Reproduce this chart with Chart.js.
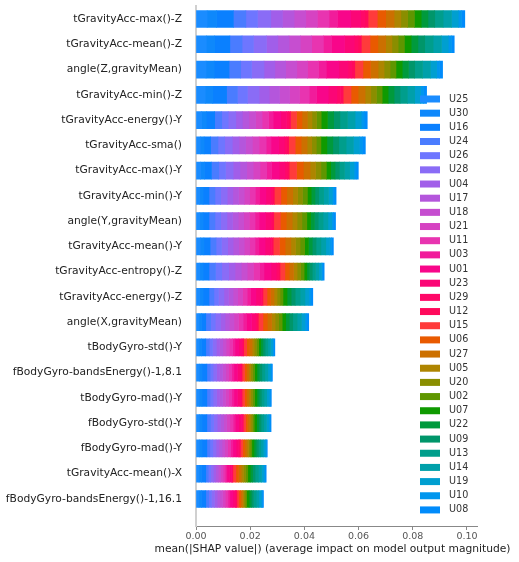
<!DOCTYPE html>
<html>
<head>
<meta charset="utf-8">
<script src="https://cdn.jsdelivr.net/npm/chart.js@4.4.1/dist/chart.umd.min.js"></script>
<style>
  html, body { margin: 0; padding: 0; background: #fff; }
  #wrap { width: 519px; height: 562px; }
</style>
</head>
<body>
<div id="wrap"><canvas id="shapChart" width="519" height="562"></canvas></div>
<script>
// features, top to bottom
const features = [
  'tGravityAcc-max()-Z', 'tGravityAcc-mean()-Z', 'angle(Z,gravityMean)', 'tGravityAcc-min()-Z',
  'tGravityAcc-energy()-Y', 'tGravityAcc-sma()', 'tGravityAcc-max()-Y', 'tGravityAcc-min()-Y',
  'angle(Y,gravityMean)', 'tGravityAcc-mean()-Y', 'tGravityAcc-entropy()-Z', 'tGravityAcc-energy()-Z',
  'angle(X,gravityMean)', 'tBodyGyro-std()-Y', 'fBodyGyro-bandsEnergy()-1,8.1', 'tBodyGyro-mad()-Y',
  'fBodyGyro-std()-Y', 'fBodyGyro-mad()-Y', 'tGravityAcc-mean()-X', 'fBodyGyro-bandsEnergy()-1,16.1'
];

const xTicks = [0, 0.02, 0.04, 0.06, 0.08, 0.10];
const xTitle = 'mean(|SHAP value|) (average impact on model output magnitude)';

// mean |SHAP| per class, in units of 1e-3, one value per feature above
const U25 = [4.1, 3.8, 3.7, 3.4, 2.1, 1.6, 1.7, 1.4, 1.4, 1.6, 1.4, 1.4, 1.1, 1.1, 1.2, 1.2, 1.2, 1.2, 1.1, 1.1];
const U30 = [3.5, 3.1, 3.0, 2.8, 1.7, 1.4, 1.4, 1.2, 1.2, 1.3, 1.2, 1.2, 0.9, 0.9, 1.0, 1.0, 1.0, 1.0, 0.9, 0.9];
const U16 = [6.2, 5.6, 5.5, 5.1, 3.1, 2.4, 2.6, 2.2, 2.2, 2.3, 2.2, 2.2, 1.6, 1.6, 1.8, 1.8, 1.8, 1.8, 1.6, 1.6];
const U24 = [4.6, 4.5, 4.3, 4.0, 2.6, 2.7, 2.7, 2.2, 2.2, 2.2, 2.4, 1.8, 1.8, 1.3, 1.2, 1.2, 1.3, 1.1, 0.9, 1.1];
const U26 = [4.3, 4.2, 4.0, 3.7, 2.4, 2.5, 2.5, 2.1, 2.1, 2.0, 2.3, 1.7, 1.7, 1.2, 1.1, 1.1, 1.2, 1.1, 0.9, 1.0];
const U28 = [4.9, 4.8, 4.6, 4.3, 2.8, 2.8, 2.8, 2.4, 2.3, 2.3, 2.6, 2.0, 1.9, 1.4, 1.3, 1.3, 1.3, 1.2, 1.0, 1.1];
const U04 = [4.3, 4.2, 4.0, 3.7, 2.4, 2.5, 2.5, 2.1, 2.1, 2.0, 2.3, 1.7, 1.7, 1.2, 1.1, 1.1, 1.2, 1.1, 0.9, 1.0];
const U17 = [4.3, 4.1, 4.0, 3.8, 2.4, 2.4, 2.5, 2.1, 2.1, 2.1, 2.3, 1.7, 1.6, 1.2, 1.1, 1.1, 1.2, 1.1, 0.9, 1.0];
const U18 = [4.3, 4.2, 4.1, 3.7, 2.5, 2.5, 2.4, 2.1, 2.0, 2.0, 2.2, 1.7, 1.7, 1.2, 1.2, 1.1, 1.1, 1.0, 0.9, 1.0];
const U21 = [4.3, 4.2, 4.0, 3.7, 2.4, 2.5, 2.5, 2.0, 2.1, 2.0, 2.3, 1.8, 1.7, 1.2, 1.1, 1.2, 1.2, 1.1, 0.9, 1.0];
const U11 = [4.3, 4.3, 4.0, 3.6, 2.4, 2.6, 2.5, 2.1, 2.1, 2.0, 2.3, 1.7, 1.7, 1.2, 1.1, 1.1, 1.2, 1.1, 0.8, 1.0];
const U03 = [3.1, 3.0, 2.9, 2.7, 1.7, 1.8, 1.8, 1.5, 1.5, 1.4, 1.6, 1.2, 1.2, 0.9, 0.8, 0.8, 0.8, 0.8, 0.6, 0.7];
const U01 = [4.9, 4.8, 4.6, 4.3, 2.8, 2.8, 2.8, 2.4, 2.3, 2.3, 2.6, 2.0, 1.9, 1.4, 1.3, 1.3, 1.3, 1.2, 1.0, 1.1];
const U23 = [3.7, 3.6, 3.4, 3.2, 2.1, 2.1, 2.1, 1.8, 1.8, 1.7, 1.9, 1.5, 1.4, 1.1, 1.0, 1.0, 1.0, 0.9, 0.7, 0.9];
const U29 = [1.5, 1.4, 1.4, 1.3, 0.8, 0.9, 0.9, 0.7, 0.7, 0.7, 0.8, 0.6, 0.6, 0.4, 0.4, 0.4, 0.4, 0.4, 0.3, 0.3];
const U12 = [1.2, 1.2, 1.1, 1.0, 0.7, 0.7, 0.7, 0.6, 0.6, 0.6, 0.6, 0.5, 0.5, 0.3, 0.3, 0.3, 0.3, 0.3, 0.2, 0.3];
const U15 = [3.4, 3.2, 3.0, 2.9, 2.2, 2.4, 2.7, 2.4, 2.4, 2.3, 1.8, 1.5, 1.7, 1.1, 0.9, 0.9, 0.8, 0.8, 1.1, 0.7];
const U06 = [3.1, 2.9, 2.8, 2.6, 2.0, 2.2, 2.5, 2.2, 2.2, 2.1, 1.6, 1.3, 1.6, 1.0, 0.8, 0.8, 0.7, 0.8, 1.0, 0.7];
const U27 = [3.1, 2.9, 2.8, 2.6, 2.0, 2.2, 2.5, 2.2, 2.2, 2.1, 1.6, 1.3, 1.6, 1.0, 0.8, 0.8, 0.7, 0.8, 1.0, 0.7];
const U05 = [2.5, 2.3, 2.2, 2.1, 1.7, 1.7, 2.0, 1.8, 1.8, 1.7, 1.3, 1.1, 1.3, 0.8, 0.7, 0.7, 0.6, 0.6, 0.8, 0.5];
const U20 = [2.5, 2.3, 2.2, 2.1, 1.7, 1.7, 2.0, 1.8, 1.8, 1.7, 1.3, 1.1, 1.3, 0.8, 0.7, 0.7, 0.6, 0.6, 0.8, 0.5];
const U02 = [2.5, 2.3, 2.2, 2.1, 1.7, 1.7, 2.0, 1.8, 1.8, 1.7, 1.3, 1.1, 1.3, 0.8, 0.7, 0.7, 0.6, 0.6, 0.8, 0.5];
const U07 = [2.5, 2.5, 2.3, 2.2, 2.3, 2.2, 1.6, 1.4, 1.4, 1.4, 1.0, 1.5, 1.3, 0.8, 0.9, 0.9, 0.9, 0.8, 0.9, 0.9];
const U22 = [2.5, 2.5, 2.3, 2.2, 2.3, 2.2, 1.6, 1.4, 1.4, 1.4, 1.0, 1.5, 1.3, 0.8, 0.9, 0.8, 0.8, 0.8, 0.9, 0.8];
const U09 = [2.5, 2.5, 2.3, 2.2, 2.3, 2.2, 1.6, 1.4, 1.4, 1.4, 1.0, 1.5, 1.3, 0.8, 0.9, 0.8, 0.8, 0.8, 0.9, 0.8];
const U13 = [3.1, 3.1, 2.9, 2.7, 2.8, 2.7, 1.9, 1.8, 1.8, 1.8, 1.2, 1.8, 1.6, 1.0, 1.1, 1.0, 1.0, 0.9, 1.2, 1.0];
const U14 = [3.1, 3.1, 2.9, 2.7, 2.8, 2.7, 1.9, 1.8, 1.8, 1.8, 1.2, 1.8, 1.6, 1.0, 1.1, 1.0, 1.0, 0.9, 1.2, 1.0];
const U19 = [2.5, 2.5, 2.3, 2.2, 2.3, 2.2, 1.6, 1.4, 1.4, 1.4, 1.0, 1.5, 1.3, 0.8, 0.9, 0.9, 0.9, 0.8, 0.9, 0.9];
const U10 = [1.2, 1.2, 1.1, 1.1, 1.1, 1.1, 0.8, 0.7, 0.7, 0.7, 0.5, 0.7, 0.7, 0.4, 0.4, 0.4, 0.4, 0.4, 0.4, 0.4];
const U08 = [1.2, 1.0, 1.1, 1.1, 1.1, 1.1, 0.8, 0.7, 0.7, 0.7, 0.5, 0.7, 0.7, 0.4, 0.4, 0.4, 0.4, 0.3, 0.4, 0.4];

const classNames = ['U25', 'U30', 'U16', 'U24', 'U26', 'U28', 'U04', 'U17', 'U18', 'U21',
  'U11', 'U03', 'U01', 'U23', 'U29', 'U12', 'U15', 'U06', 'U27', 'U05',
  'U20', 'U02', 'U07', 'U22', 'U09', 'U13', 'U14', 'U19', 'U10', 'U08'];
const classValues = [U25, U30, U16, U24, U26, U28, U04, U17, U18, U21,
  U11, U03, U01, U23, U29, U12, U15, U06, U27, U05,
  U20, U02, U07, U22, U09, U13, U14, U19, U10, U08];

// blue -> pink -> red -> green -> blue
const classColors = [
  '#1a8cff', '#0e88fb', '#0a80ff', '#4a7cff', '#6e76ff', '#8a6cf6', '#a15ee9', '#b456dc', '#c64ed0', '#d643c2',
  '#e834b0', '#f11c9b', '#f8068a', '#fb0676', '#ff0868', '#ff0a5c', '#ff3b3b', '#e95a00', '#cc7000', '#ae8500',
  '#8a8e00', '#5f9600', '#0f9a00', '#009a3c', '#00966a', '#009e8c', '#00a0aa', '#009fd0', '#0096ee', '#008bfb'
];

const FONT = 'DejaVu Sans';

const datasets = classNames.map((name, k) => ({
  label: name,
  data: classValues[k].map((v, i) => ({ x: v / 1000, y: i })),
  backgroundColor: classColors[k],
  borderWidth: 0,
  barThickness: 17
}));

// legend over the lower right of the plot, plus the x axis title
// (the built-in scale title gets squeezed to the plot width)
const shapLegend = {
  id: 'shapLegend',
  afterDraw(chart) {
    const ctx = chart.ctx;
    ctx.save();
    ctx.font = '9.6px "' + FONT + '"';
    ctx.textBaseline = 'middle';
    ctx.textAlign = 'left';
    classNames.forEach((name, k) => {
      const y = 99 + k * 14.17;
      ctx.fillStyle = classColors[k];
      ctx.fillRect(420, y - 3.5, 20, 7);
      ctx.fillStyle = '#333';
      ctx.fillText(name, 449, y);
    });

    const area = chart.chartArea;
    ctx.font = '10.7px "' + FONT + '"';
    ctx.fillStyle = '#222';
    ctx.textAlign = 'center';
    ctx.fillText(xTitle, (area.left + area.right) / 2 - 4, 549);
    ctx.restore();
  }
};

new Chart(document.getElementById('shapChart'), {
  type: 'bar',
  data: { datasets: datasets },
  plugins: [shapLegend],
  options: {
    indexAxis: 'y',
    responsive: false,
    animation: false,
    layout: { padding: { top: 6.4, right: 42, bottom: 0, left: 0 } },
    plugins: { legend: { display: false }, tooltip: { enabled: false } },
    scales: {
      x: {
        type: 'linear',
        stacked: true,
        bounds: 'data',
        min: 0,
        max: 0.1037,
        afterBuildTicks: (scale) => { scale.ticks = xTicks.map(v => ({ value: v })); },
        afterFit: (scale) => { scale.height = 36; scale.paddingLeft = 0; scale.paddingRight = 0; },
        grid: { drawOnChartArea: false, drawTicks: true, tickLength: 4, color: '#888' },
        border: { color: '#888', width: 1 },
        ticks: {
          padding: 1,
          color: '#555',
          font: { family: FONT, size: 9.5 },
          callback: (v) => Number(v).toFixed(2)
        }
      },
      y: {
        type: 'linear',
        stacked: true,
        reverse: true,
        offset: false,
        bounds: 'data',
        min: -0.5,
        max: 20.07,
        afterBuildTicks: (scale) => { scale.ticks = features.map((f, i) => ({ value: i })); },
        afterFit: (scale) => { scale.width = 196; scale.paddingTop = 0; scale.paddingBottom = 0; },
        grid: { display: false },
        border: { color: '#d0d0d0', width: 2 },
        ticks: {
          padding: 6,
          color: '#222',
          font: { family: FONT, size: 10.7 },
          callback: (v) => features[v]
        }
      }
    }
  }
});
</script>
</body>
</html>
